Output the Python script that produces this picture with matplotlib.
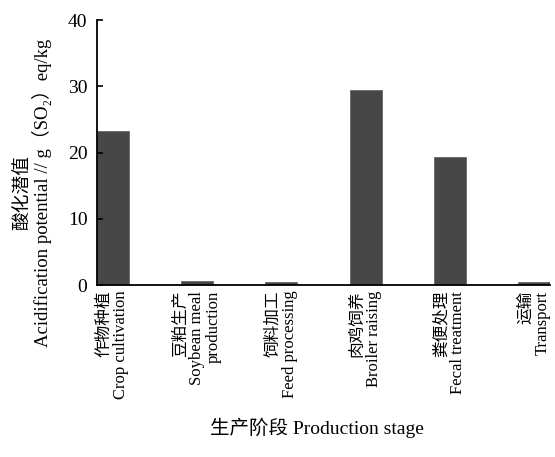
import matplotlib as mpl
import matplotlib.pyplot as plt
import numpy as np

mpl.rcParams['font.family'] = ['Liberation Serif', 'Noto Sans CJK SC']
mpl.rcParams['font.size'] = 14

stages = ['作物种植\nCrop cultivation',
          '豆粕生产\nSoybean meal\nproduction',
          '饲料加工\nFeed processing',
          '肉鸡饲养\nBroiler raising',
          '粪便处理\nFecal treatment',
          '运输\nTransport']
ap_values = [23.3, 0.6, 0.5, 29.4, 19.4, 0.5]
yticks = [0, 10, 20, 30, 40]

fig = plt.figure(figsize=(5.55, 4.57), dpi=100)
ax = fig.add_axes([0.175, 0.376, 0.816, 0.58])

x = np.arange(len(stages))
ax.bar(x, ap_values, width=0.38, color='#474747', edgecolor='#5a5a5a', linewidth=0.5)

ax.set_xlim(-0.19, len(stages) - 1 + 0.19)
ax.set_ylim(0, 40)
ax.set_yticks(yticks)

# axes frame: only left and bottom, ticks pointing inward
for side in ['top', 'right']:
    ax.spines[side].set_visible(False)
for side in ['left', 'bottom']:
    ax.spines[side].set_linewidth(1.3)
ax.tick_params(axis='y', direction='in', length=4, width=1.2, pad=7, labelsize=14)
ax.tick_params(axis='x', length=0, pad=4)

ax.set_xticks(x)
ax.set_xticklabels(stages, rotation=90, ha='center', va='top',
                   multialignment='right', fontsize=12, linespacing=1.05)

ax.set_ylabel('酸化潜值\nAcidification potential // g（SO₂）eq/kg',
              fontsize=13.5, linespacing=1.0)
ax.yaxis.set_label_coords(-0.100, 0.35)

ax.set_xlabel('生产阶段 Production stage', fontsize=14)
ax.xaxis.set_label_coords(0.486, -0.50)

plt.savefig('out.png', dpi=100)
